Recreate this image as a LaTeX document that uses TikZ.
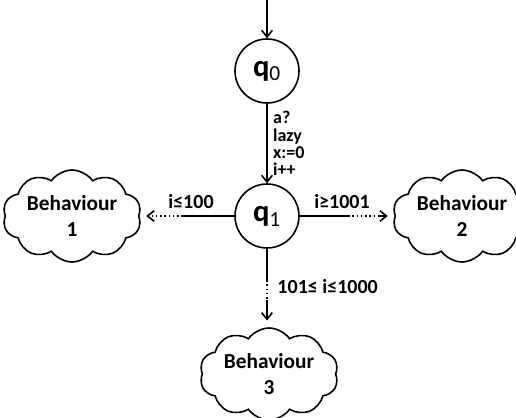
\documentclass[tikz,border=0pt]{standalone}
\usepackage{fontspec}
\setmainfont{Carlito}
\usetikzlibrary{shapes.symbols,arrows.meta}

\begin{document}
\begin{tikzpicture}[x=0.75pt,y=0.75pt,>={Straight Barb[length=5pt,width=8pt]},line width=1.2pt]
      \def\qx{267}
      \def\hy{201}
      \tikzset{
        estado/.style={circle,draw,minimum size=48pt,inner sep=0pt,font=\bfseries\fontsize{23}{23}\selectfont},
        nube/.style={cloud,draw,cloud puffs=10,cloud puff arc=110,cloud ignores aspect,minimum width=104pt,minimum height=69pt,inner sep=0pt,align=center,font=\bfseries\fontsize{16}{20}\selectfont},
        etiq/.style={font=\bfseries\fontsize{15}{15}\selectfont,inner sep=2pt},
        accion/.style={font=\bfseries\fontsize{13.5}{13}\selectfont,inner sep=4pt,align=left}
      }
      \useasboundingbox (0,0) rectangle (516,417);

      % Estados
      \node[estado] (q0) at (\qx,346) {q\textsubscript{\mdseries 0}};
      \node[estado] (q1) at (\qx,\hy) {q\textsubscript{\mdseries 1}};

      % Comportamientos
      \node[nube] (n1) at (72,\hy) {Behaviour\\1};
      \node[nube] (n2) at (462,\hy) {Behaviour\\2};
      \node[nube] (n3) at (269,43) {Behaviour\\3};

      % Entrada y transicion q0 -> q1
      \coordinate (ini) at (\qx,417);
      \draw[->] (ini) -- (q0);
      \draw[->] (q0) -- node[accion,right]{a?\\lazy\\x:=0\\i++} (q1);

      % Hacia la izquierda
      \coordinate (i1) at (183,\hy);
      \coordinate (i2) at (148,\hy);
      \draw (q1) -- (i1);
      \draw[dotted] (i1) -- (i2);
      \draw[->,shorten >=5pt] (i2) -- (n1.east);
      \node[etiq] at (191,215) {i≤100};

      % Hacia la derecha
      \coordinate (d1) at (348,\hy);
      \coordinate (d2) at (378,\hy);
      \draw (q1) -- (d1);
      \draw[dotted] (d1) -- (d2);
      \draw[->,shorten >=5pt] (d2) -- (n2.west);
      \node[etiq] at (342,215) {i≥1001};

      % Hacia abajo
      \coordinate (b1) at (\qx,137);
      \coordinate (b2) at (\qx,117);
      \draw (q1) -- (b1);
      \draw[dotted] (b1) -- (b2);
      \draw[->,shorten >=5pt] (b2) -- (n3.north -| b2);
      \node[etiq,anchor=west] at (274,130) {101≤ i≤1000};
\end{tikzpicture}
\end{document}
